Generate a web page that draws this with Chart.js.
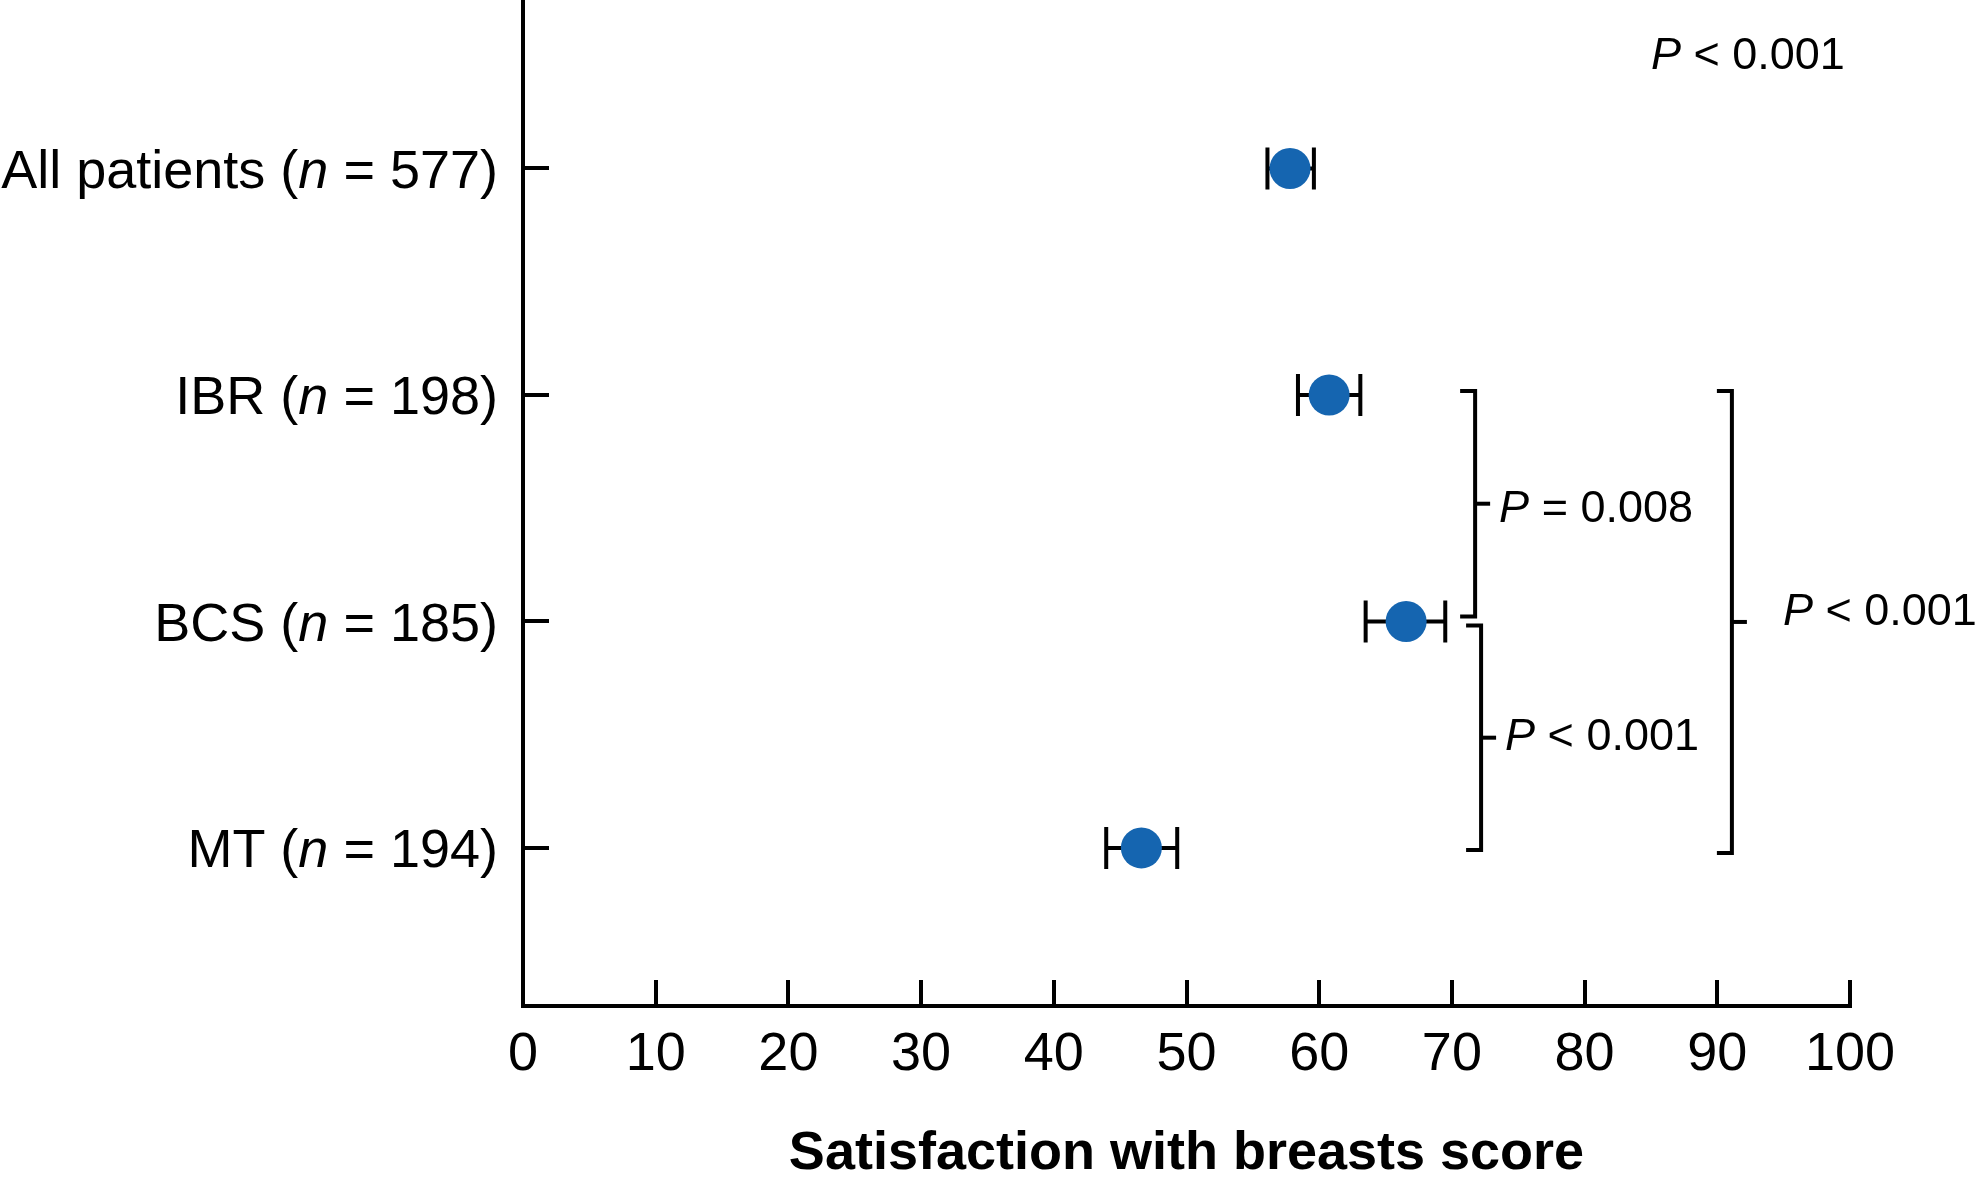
<!DOCTYPE html>
<html>
<head>
<meta charset="utf-8">
<script src="https://cdn.jsdelivr.net/npm/chart.js@4.4.1/dist/chart.umd.min.js"></script>
<style>
html, body { margin: 0; padding: 0; background: #ffffff; }
#wrap { width: 1980px; height: 1182px; position: relative; }
</style>
</head>
<body>
<div id="wrap"><canvas id="c"></canvas></div>
<script>
// ---- data ----
const categories = ['All patients', 'IBR', 'BCS', 'MT'];
const sampleSizes = [577, 198, 185, 194];
const meanScores = [57.8, 60.75, 66.55, 46.6];
const ciLower = [56.1, 58.4, 63.5, 43.95];
const ciUpper = [59.6, 63.1, 69.5, 49.3];
const xTickValues = [0, 10, 20, 30, 40, 50, 60, 70, 80, 90, 100];
const comparisonPairs = [[1, 2], [2, 3], [1, 3]];
const comparisonLabels = ['= 0.008', '< 0.001', '< 0.001'];
const overallLabel = '< 0.001';
const xAxisTitle = 'Satisfaction with breasts score';

// ---- layout / style ----
const FONT = '"Liberation Sans", Arial, Helvetica, sans-serif';
const BLUE = '#1565b0';
const P_SIZE = 45;
const bracketLayout = [
  { x: 71.75, top: -4, bottom: -5, textDx: 24, textDy: 2 },
  { x: 72.2, top: 4, bottom: 2, textDx: 24, textDy: -3.5 },
  { x: 91.1, top: -4, bottom: 5, textDx: 51, textDy: -13 }
];
const overallPos = { x: 85.0, y: 4.51 };
const yPos = i => categories.length - i;

function drawPText(ctx, x, yCenter, rest, size) {
  const base = yCenter + size * 0.716 / 2;
  ctx.textAlign = 'left';
  ctx.textBaseline = 'alphabetic';
  ctx.font = 'italic ' + size + 'px ' + FONT;
  ctx.fillText('P', x, base);
  const w = ctx.measureText('P').width;
  ctx.font = size + 'px ' + FONT;
  ctx.fillText(' ' + rest, x + w, base);
}

const annotationPlugin = {
  id: 'annot',
  beforeDatasetsDraw(chart) {
    const ctx = chart.ctx, xs = chart.scales.x, ys = chart.scales.y;
    ctx.save();
    ctx.strokeStyle = '#000';
    ctx.lineWidth = 4;
    ctx.lineCap = 'butt';
    for (let i = 0; i < categories.length; i++) {
      const y = ys.getPixelForValue(yPos(i));
      const x1 = xs.getPixelForValue(ciLower[i]);
      const x2 = xs.getPixelForValue(ciUpper[i]);
      ctx.beginPath();
      ctx.moveTo(x1, y); ctx.lineTo(x2, y);
      ctx.moveTo(x1, y - 21); ctx.lineTo(x1, y + 21);
      ctx.moveTo(x2, y - 21); ctx.lineTo(x2, y + 21);
      ctx.stroke();
    }
    ctx.restore();
  },
  afterDraw(chart) {
    const ctx = chart.ctx, xs = chart.scales.x, ys = chart.scales.y;
    ctx.save();
    ctx.fillStyle = '#000';
    // y category labels with italic n
    const size = 54;
    const rightX = xs.left - 25;
    for (let i = 0; i < categories.length; i++) {
      const y = ys.getPixelForValue(yPos(i));
      const base = y + size * 0.716 / 2;
      const parts = [
        [categories[i] + ' (', ''],
        ['n', 'italic '],
        [' = ' + sampleSizes[i] + ')', '']
      ];
      let x = rightX;
      ctx.textBaseline = 'alphabetic';
      ctx.textAlign = 'left';
      for (let k = parts.length - 1; k >= 0; k--) {
        ctx.font = parts[k][1] + size + 'px ' + FONT;
        const w = ctx.measureText(parts[k][0]).width;
        x -= w;
        ctx.fillText(parts[k][0], x, base);
      }
    }
    // brackets
    ctx.strokeStyle = '#000';
    ctx.lineWidth = 4;
    ctx.lineJoin = 'miter';
    comparisonPairs.forEach((pair, k) => {
      const L = bracketLayout[k];
      const xv = xs.getPixelForValue(L.x);
      const yt = ys.getPixelForValue(yPos(pair[0])) + L.top;
      const yb = ys.getPixelForValue(yPos(pair[1])) + L.bottom;
      const ym = (yt + yb) / 2;
      ctx.beginPath();
      ctx.moveTo(xv - 15, yt); ctx.lineTo(xv, yt); ctx.lineTo(xv, yb); ctx.lineTo(xv - 15, yb);
      ctx.stroke();
      ctx.beginPath();
      ctx.moveTo(xv, ym); ctx.lineTo(xv + 15, ym);
      ctx.stroke();
      drawPText(ctx, xv + L.textDx, ym + L.textDy, comparisonLabels[k], P_SIZE);
    });
    drawPText(ctx, xs.getPixelForValue(overallPos.x), ys.getPixelForValue(overallPos.y), overallLabel, P_SIZE);
    ctx.restore();
  }
};

new Chart(document.getElementById('c'), {
  type: 'scatter',
  data: {
    datasets: [{
      data: meanScores.map((v, i) => ({ x: v, y: yPos(i) })),
      pointRadius: 20.5,
      pointHoverRadius: 20.5,
      pointBackgroundColor: BLUE,
      pointBorderWidth: 0,
      borderWidth: 0
    }]
  },
  options: {
    responsive: true,
    maintainAspectRatio: false,
    animation: false,
    events: [],
    layout: { autoPadding: false, padding: { left: 0, right: 130, top: 0, bottom: 0 } },
    plugins: { legend: { display: false }, tooltip: { enabled: false } },
    scales: {
      x: {
        type: 'linear',
        min: 0, max: 100,
        afterBuildTicks: s => { s.ticks = xTickValues.map(v => ({ value: v })); },
        afterFit: s => { s.height = 176; },
        border: { display: true, color: '#000', width: 4 },
        grid: { drawOnChartArea: false, drawTicks: true, tickLength: -26, color: '#000', lineWidth: 4 },
        ticks: { color: '#000', padding: 48, maxRotation: 0, autoSkip: false,
                 font: { family: FONT, size: 54, lineHeight: 1 } },
        title: { display: true, text: xAxisTitle, color: '#000',
                 font: { family: FONT, size: 54, weight: 'bold', lineHeight: 1 },
                 padding: { top: 0, bottom: 1 } }
      },
      y: {
        type: 'linear',
        min: 0.302, max: 4.744,
        afterBuildTicks: s => { s.ticks = categories.map((c, i) => ({ value: yPos(i) })); },
        afterFit: s => { s.width = 523; },
        border: { display: true, color: '#000', width: 4 },
        grid: { drawOnChartArea: false, drawTicks: true, tickLength: -26, color: '#000', lineWidth: 4 },
        ticks: { display: false }
      }
    }
  },
  plugins: [annotationPlugin]
});
</script>
</body>
</html>
